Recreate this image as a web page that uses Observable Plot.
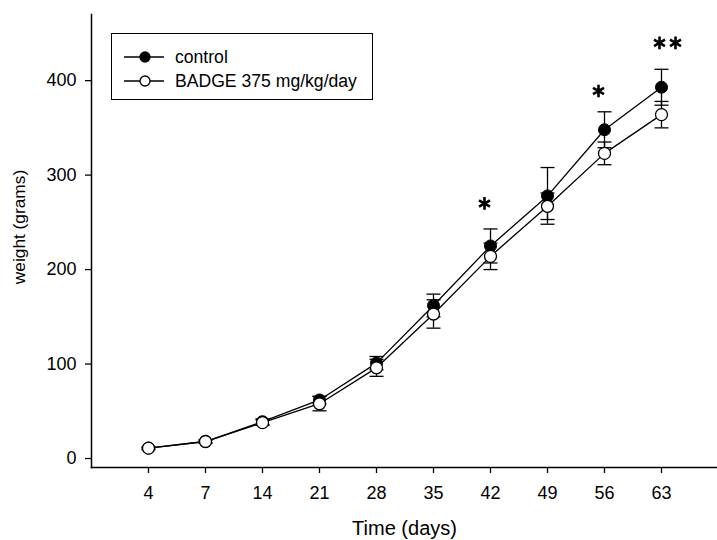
<!DOCTYPE html>
<html><head><meta charset="utf-8">
<script src="https://cdn.jsdelivr.net/npm/d3@7"></script>
<script src="https://cdn.jsdelivr.net/npm/@observablehq/plot@0.6"></script>
<style>
body{margin:0;background:#fff;font-family:"Liberation Sans",Arial,sans-serif}
#wrap{position:relative;width:717px;height:540px;overflow:hidden}
#wrap svg g[aria-label$="tick label"], #wrap svg g[aria-label$="tick label"] text{font-size:18px !important}
#legend{position:absolute;left:111px;top:33px;width:260px;height:65px;border:1.3px solid #000;background:#fff;box-sizing:content-box}
.row{position:absolute;left:0;height:20px;display:flex;align-items:center;font-size:17.6px;color:#000;white-space:nowrap}
.row svg{margin-left:11px;margin-right:10px}
</style></head>
<body><div id="wrap"></div>
<script>
const days = [4, 7, 14, 21, 28, 35, 42, 49, 56, 63];
const control = [11, 18, 39, 62, 101, 162, 225, 278, 348, 393];
const controlSE = [1, 1.5, 3, 4, 7, 12, 18, 30, 19, 19];
const badge = [11, 18, 38, 58, 96, 153, 214, 267, 323, 364];
const badgeSE = [1, 1.5, 3, 7.5, 9, 15, 14, 14, 12, 14];
const yTicks = [0, 100, 200, 300, 400];
const seriesNames = ["control", "BADGE 375 mg/kg/day"];
const sigDays = [42, 56, 63];
const sigHeights = [270, 389, 440];
const sigStars = [1, 1, 2];

const rows = days.map((d, i) => ({day: d, control: control[i], cSE: controlSE[i], badge: badge[i], bSE: badgeSE[i]}));
const sig = sigDays.map((d, i) => ({day: d, y: sigHeights[i], n: sigStars[i]}));
const font = '"Liberation Sans", Arial, sans-serif';
const sw = 1.3;

const capSymbol = {
  draw(ctx, size) {
    const w = Math.sqrt(size / Math.PI);
    ctx.moveTo(-w, 0);
    ctx.lineTo(w, 0);
  }
};

function errMarks(val, se) {
  return [
    Plot.ruleX(rows, {x: "day", y1: d => d[val] - d[se], y2: d => d[val] + d[se], stroke: "#000", strokeWidth: sw}),
    Plot.dot(rows, {x: "day", y: d => d[val] + d[se], symbol: capSymbol, r: 7, stroke: "#000", strokeWidth: sw}),
    Plot.dot(rows, {x: "day", y: d => d[val] - d[se], symbol: capSymbol, r: 7, stroke: "#000", strokeWidth: sw})
  ];
}

const star = {symbol: "asterisk", r: 6, stroke: "#000", strokeWidth: 2.6};

const chart = Plot.plot({
  width: 717, height: 540,
  marginTop: 14, marginBottom: 73, marginLeft: 91, marginRight: 0,
  style: {fontFamily: font, fontSize: "18px", color: "#000", background: "#fff", overflow: "visible"},
  x: {type: "point", domain: days, padding: 0.95, label: null},
  y: {domain: [-9.5, 470], label: null},
  marks: [
    Plot.frame({anchor: "left", stroke: "#000", strokeWidth: 1.5}),
    Plot.frame({anchor: "bottom", stroke: "#000", strokeWidth: 1.5}),
    Plot.axisX({ticks: days, tickSize: 6, tickPadding: 13, label: null, strokeWidth: 1.3, fontSize: 18}),
    Plot.axisY({ticks: yTicks, tickSize: 6, tickPadding: 9, label: null, strokeWidth: 1.3, fontSize: 18}),
    Plot.text(["Time (days)"], {frameAnchor: "bottom", lineAnchor: "middle", textAnchor: "middle", dy: 61, fontSize: 20}),
    Plot.text(["weight (grams)"], {frameAnchor: "left", lineAnchor: "middle", textAnchor: "middle", rotate: -90, dx: -72, dy: -14, fontSize: 17.3}),
    Plot.lineY(rows, {x: "day", y: "control", stroke: "#000", strokeWidth: sw}),
    Plot.lineY(rows, {x: "day", y: "badge", stroke: "#000", strokeWidth: sw}),
    ...errMarks("badge", "bSE"),
    ...errMarks("control", "cSE"),
    Plot.dot(rows, {x: "day", y: "control", r: 6, fill: "#000", stroke: "#000", strokeWidth: 1}),
    Plot.dot(rows, {x: "day", y: "badge", r: 6, fill: "#fff", stroke: "#000", strokeWidth: sw}),
    Plot.dot(sig.filter(d => d.n === 1), {x: "day", y: "y", ...star, dx: -6}),
    Plot.dot(sig.filter(d => d.n === 2), {x: "day", y: "y", ...star, dx: -2}),
    Plot.dot(sig.filter(d => d.n === 2), {x: "day", y: "y", ...star, dx: 14})
  ]
});
const wrap = document.getElementById("wrap");
wrap.appendChild(chart);

const legend = document.createElement("div");
legend.id = "legend";
const fills = ["#000", "#fff"];
seriesNames.forEach((name, i) => {
  const row = document.createElement("div");
  row.className = "row";
  row.style.top = (13 + i * 24) + "px";
  row.innerHTML = `<svg width="42" height="14"><line x1="1" y1="7" x2="41" y2="7" stroke="#000" stroke-width="1.3"/><circle cx="22" cy="7" r="5" fill="${fills[i]}" stroke="#000" stroke-width="1.3"/></svg><span>${name}</span>`;
  legend.appendChild(row);
});
wrap.appendChild(legend);
</script>
</body></html>
